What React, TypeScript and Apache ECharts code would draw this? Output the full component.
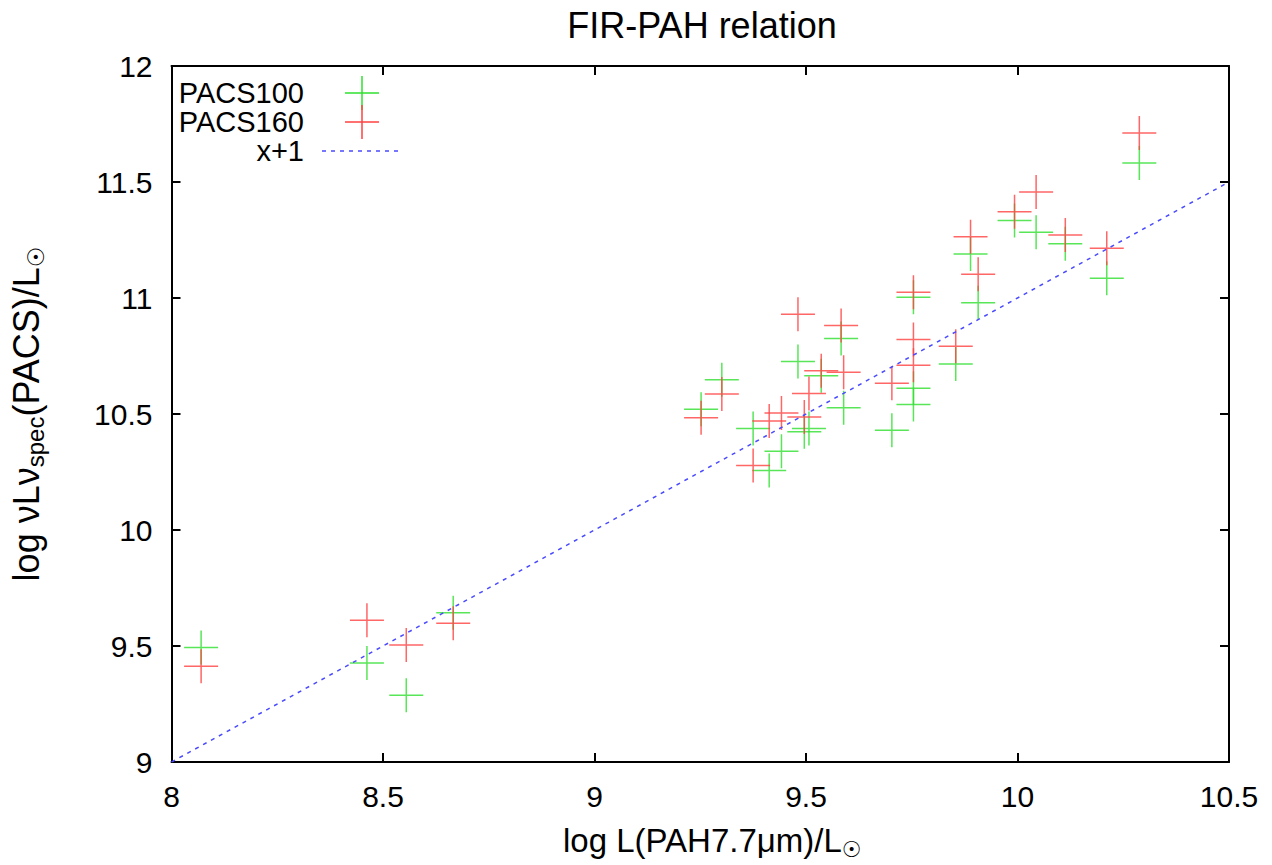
import React, { useEffect, useRef } from "react";
import * as echarts from "echarts";

const pacs100X = [8.070, 8.462, 8.555, 8.666, 9.252, 9.301, 9.375, 9.413, 9.442, 9.481, 9.496, 9.507, 9.536, 9.583, 9.589, 9.703, 9.754, 9.754, 9.754, 9.854, 9.889, 9.907, 9.993, 10.044, 10.113, 10.211, 10.288];
const pacs100Y = [9.494, 9.427, 9.288, 9.643, 10.520, 10.648, 10.437, 10.256, 10.339, 10.726, 10.424, 10.438, 10.665, 10.825, 10.527, 10.430, 11.003, 10.611, 10.541, 10.716, 11.190, 10.980, 11.334, 11.283, 11.234, 11.085, 11.582];
const pacs160X = [8.070, 8.462, 8.555, 8.666, 9.252, 9.301, 9.375, 9.413, 9.442, 9.481, 9.496, 9.507, 9.536, 9.583, 9.589, 9.703, 9.754, 9.754, 9.754, 9.854, 9.889, 9.907, 9.993, 10.044, 10.113, 10.211, 10.288];
const pacs160Y = [9.413, 9.611, 9.504, 9.598, 10.484, 10.586, 10.278, 10.470, 10.504, 10.930, 10.487, 10.588, 10.686, 10.882, 10.680, 10.633, 11.025, 10.821, 10.710, 10.792, 11.264, 11.102, 11.372, 11.457, 11.272, 11.214, 11.711];
const lineX = [8, 10.5];
const lineY = [9, 11.5];

const GREEN = "#2ee02e";
const RED = "#ff4040";
const BLUE = "#4a4aff";
const FONT = "Liberation Sans";
const FS = 30;
const LFS = 29;

const CROSS = "path://M0,10L20,10M10,0L10,20";

export default function App() {
  const ref = useRef<HTMLDivElement>(null);
  useEffect(() => {
    if (!ref.current) return;
    const chart = echarts.init(ref.current, null, { renderer: "svg" });
    const axisLine = { show: true, lineStyle: { color: "#000", width: 2 } };
    const tick = { show: true, inside: true, length: 9, lineStyle: { color: "#000", width: 2 } };
    const label = { color: "#000", fontFamily: FONT, fontSize: FS };
    const legendY = [93, 122, 151];
    const cross = (cx: number, cy: number, color: string) => [
      { type: "line", shape: { x1: cx - 17, y1: cy, x2: cx + 17, y2: cy }, style: { stroke: color, lineWidth: 1.5 } },
      { type: "line", shape: { x1: cx, y1: cy - 17, x2: cx, y2: cy + 17 }, style: { stroke: color, lineWidth: 1.5 } },
    ];
    const legText = (t: string, y: number) => ({
      type: "text",
      style: { text: t, x: 304, y, align: "right", verticalAlign: "middle", fill: "#000", font: `${LFS}px "${FONT}"` },
    });
    chart.setOption({
      animation: false,
      backgroundColor: "#fff",
      title: {
        text: "FIR-PAH relation",
        left: 697,
        textAlign: "center",
        top: 2,
        textStyle: { color: "#000", fontFamily: FONT, fontSize: 36, fontWeight: "normal" },
      },
      grid: { left: 166, top: 66, right: 43, bottom: 95 },
      xAxis: [
        {
          type: "value", min: 8, max: 10.5, interval: 0.5,
          axisLine, axisTick: tick, splitLine: { show: false },
          axisLabel: { ...label, margin: 19 },
          name: "{a|log L(PAH7.7μm)/L}{s|☉}",
          nameLocation: "middle", nameGap: 58,
          nameTextStyle: {
            padding: [0, 0, 0, 24],
            rich: {
              a: { color: "#000", fontFamily: FONT, fontSize: 33 },
              s: { color: "#000", fontFamily: "DejaVu Sans", fontSize: 22, padding: [18, 0, 0, 0] },
            },
          },
        },
        {
          type: "value", min: 8, max: 10.5, interval: 0.5, position: "top",
          axisLine, axisTick: tick, axisLabel: { show: false }, splitLine: { show: false },
        },
      ],
      yAxis: [
        {
          type: "value", min: 9, max: 12, interval: 0.5,
          axisLine, axisTick: tick, splitLine: { show: false },
          axisLabel: { ...label, margin: 19 },
          name: "{a|log νLν}{s|spec}{a|(PACS)/L}{t|☉}",
          nameLocation: "middle", nameGap: 124, nameRotate: 90,
          nameTextStyle: {
            rich: {
              a: { color: "#000", fontFamily: FONT, fontSize: 36 },
              s: { color: "#000", fontFamily: FONT, fontSize: 24, padding: [19, 0, 0, 0] },
              t: { color: "#000", fontFamily: "DejaVu Sans", fontSize: 23, padding: [19, 0, 0, 0] },
            },
          },
        },
        {
          type: "value", min: 9, max: 12, interval: 0.5, position: "right",
          axisLine, axisTick: tick, axisLabel: { show: false }, splitLine: { show: false },
        },
      ],
      series: [
        {
          name: "PACS100", type: "scatter", symbol: CROSS, symbolSize: 34,
          itemStyle: { color: "transparent", borderColor: GREEN, borderWidth: 1.5 },
          data: pacs100X.map((x, i) => [x, pacs100Y[i]]), z: 2,
        },
        {
          name: "PACS160", type: "scatter", symbol: CROSS, symbolSize: 34,
          itemStyle: { color: "transparent", borderColor: RED, borderWidth: 1.5 },
          data: pacs160X.map((x, i) => [x, pacs160Y[i]]), z: 3,
        },
        {
          name: "x+1", type: "line", symbol: "none",
          lineStyle: { color: BLUE, width: 1.5, type: [4, 5] },
          data: lineX.map((x, i) => [x, lineY[i]]), z: 4,
        },
      ],
      graphic: [
        legText("PACS100", legendY[0]),
        ...cross(362, legendY[0], GREEN),
        legText("PACS160", legendY[1]),
        ...cross(362, legendY[1], RED),
        legText("x+1", legendY[2]),
        { type: "line", shape: { x1: 322, y1: legendY[2], x2: 398, y2: legendY[2] }, style: { stroke: BLUE, lineWidth: 1.5, lineDash: [4, 5] } },
      ],
    });
    return () => chart.dispose();
  }, []);
  return <div ref={ref} style={{ position: "fixed", left: 0, top: 0, width: 1272, height: 865 }} />;
}
